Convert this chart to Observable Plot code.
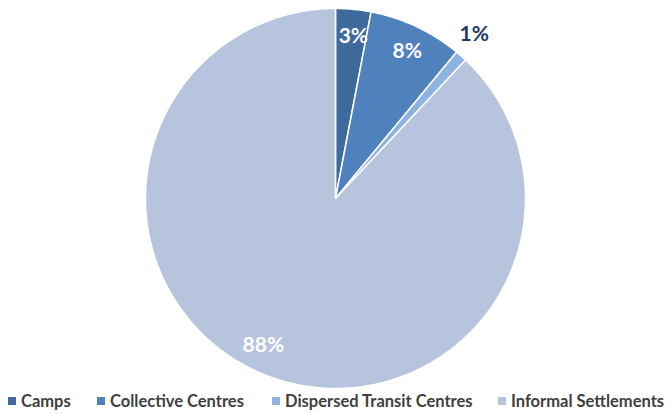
<!DOCTYPE html>
<html>
<head>
<meta charset="utf-8">
<script src="https://cdn.jsdelivr.net/npm/d3@7"></script>
<script src="https://cdn.jsdelivr.net/npm/@observablehq/plot@0.6"></script>
<style>
  html, body { margin: 0; padding: 0; background: #fff; }
  #chart { width: 670px; font-family: Lato, "Open Sans", sans-serif; }
  .legend { display: flex; align-items: center; height: 26px; font-weight: bold; font-size: 16.5px; color: #404040; }
  .legend .item { display: flex; align-items: center; position: absolute; }
  .legend .sw { width: 8px; height: 8px; margin-right: 5px; }
</style>
</head>
<body>
<div id="chart"></div>
<script>
const categories = ["Camps", "Collective Centres", "Dispersed Transit Centres", "Informal Settlements"];
const shares = [3, 8, 1, 88];
const labels = ["3%", "8%", "1%", "88%"];
const colors = ["#3e6a9c", "#4f81bd", "#8db3e2", "#b6c4de"];
const labelColors = ["#ffffff", "#ffffff", "#1f3864", "#ffffff"];

const total = d3.sum(shares);
const slices = [];
let acc = 0;
categories.forEach((c, i) => {
  const a0 = acc / total * 2 * Math.PI;
  acc += shares[i];
  const a1 = acc / total * 2 * Math.PI;
  slices.push({category: c, a0, a1, i});
});

// polygon points for each slice (center + arc), angle clockwise from 12 o'clock
const pts = [];
for (const s of slices) {
  pts.push({category: s.category, x: 0, y: 0});
  const n = Math.max(4, Math.ceil((s.a1 - s.a0) / 0.01));
  for (let k = 0; k <= n; k++) {
    const a = s.a0 + (s.a1 - s.a0) * k / n;
    pts.push({category: s.category, x: Math.sin(a), y: Math.cos(a)});
  }
  pts.push({category: s.category, x: 0, y: 0});
}

const labelData = slices.map(s => {
  const mid = (s.a0 + s.a1) / 2;
  const outside = shares[s.i] < 2;
  const r = outside ? 1.13 : 0.86;
  const am = outside ? mid - 0.02 : (s.i === 3 ? mid + 0.08 : mid + 0.015);
  return {label: labels[s.i], x: r * Math.sin(am), y: r * Math.cos(am), color: labelColors[s.i]};
});

const plot = Plot.plot({
  width: 670,
  height: 388,
  margin: 0,
  x: {domain: [-1, 1], range: [145, 525], axis: null},
  y: {domain: [-1, 1], range: [388, 8], axis: null},
  color: {domain: categories, range: colors},
  marks: [
    Plot.line(pts, {x: "x", y: "y", z: "category", fill: "category", stroke: "#ffffff", strokeWidth: 1.5, strokeLinejoin: "round", curve: "linear"}),
    Plot.text(labelData, {x: "x", y: "y", text: "label", fill: "color", fontSize: 21, fontWeight: "bold", fontFamily: "Lato, 'Open Sans', sans-serif"})
  ]
});

const root = document.getElementById("chart");
root.appendChild(plot);

const legend = document.createElement("div");
legend.className = "legend";
legend.style.position = "relative";
const lefts = [8, 97, 272, 498];
categories.forEach((c, i) => {
  const it = document.createElement("div");
  it.className = "item";
  it.style.left = lefts[i] + "px";
  const sw = document.createElement("span");
  sw.className = "sw";
  sw.style.background = colors[i];
  const t = document.createElement("span");
  t.textContent = c;
  it.appendChild(sw);
  it.appendChild(t);
  legend.appendChild(it);
});
root.appendChild(legend);
</script>
</body>
</html>
